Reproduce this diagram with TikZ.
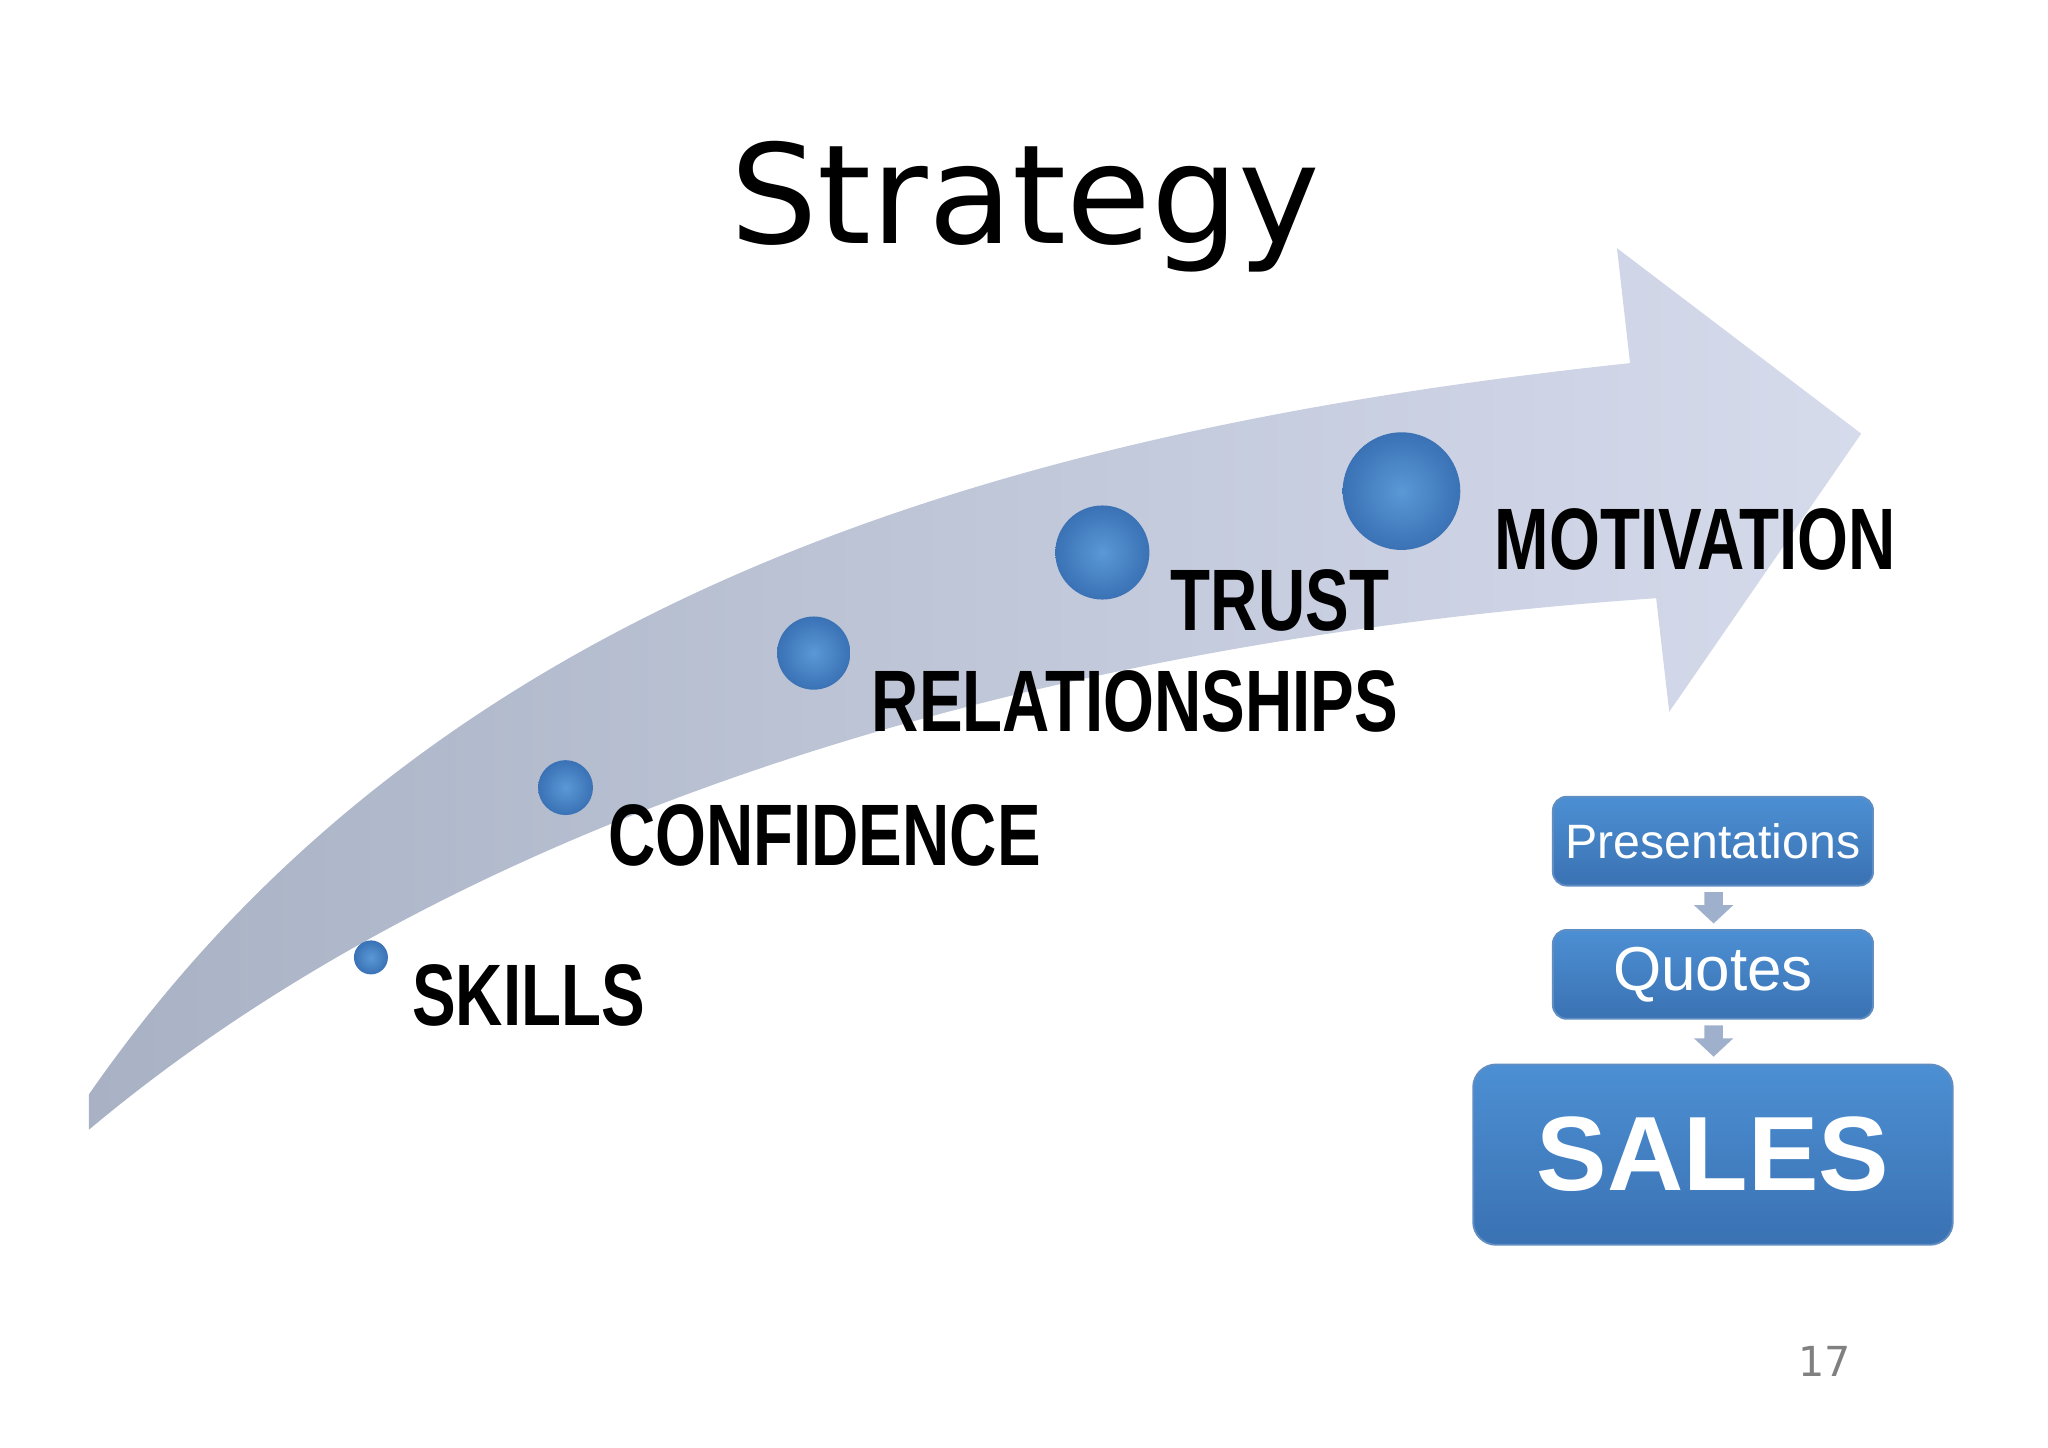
\documentclass[tikz,border=0pt]{standalone}
\usepackage{fontspec}
\setmainfont{Liberation Sans}
\newfontfamily\titlefont{DejaVu Sans}
\usetikzlibrary{shadings}
\definecolor{ballin}{HTML}{5A98D6}
\definecolor{ballout}{HTML}{3A72B5}
\definecolor{boxtop}{HTML}{4C8FD3}
\definecolor{boxbot}{HTML}{3A72B3}
\definecolor{arrA}{HTML}{A8B2C4}
\definecolor{arrB}{HTML}{D6DBEC}
\definecolor{smallarr}{HTML}{9FB0CC}
\tikzset{
  ball/.style={circle,inner sep=0pt,inner color=ballin,outer color=ballout,draw=none},
  lab/.style={font=\bfseries\fontsize{19}{20}\selectfont,xscale=0.75,anchor=west,inner sep=0pt},
  bluebox/.style={rounded corners=3pt,top color=boxtop,bottom color=boxbot,draw=boxbot!80,text=white,inner sep=0pt},
  darrow/.style={fill=smallarr,draw=none}
}
\begin{document}
\begin{tikzpicture}[x=0.01cm,y=-0.01cm]
\useasboundingbox (0,0) rectangle (1568,1108);
% big arrow
\shade[left color=arrA,right color=arrB]
 (68,838) .. controls (330,460) and (760,330) .. (1248,278)
 -- (1238,190) -- (1425,332) -- (1278,545) -- (1268,458)
 .. controls (800,490) and (360,620) .. (68,865) -- cycle;
\node[font=\titlefont\fontsize{30}{34}\selectfont] (title) at (785,158) {Strategy};
\node[ball,minimum size=0.26cm] (b1) at (284,733) {};
\node[ball,minimum size=0.42cm] (b2) at (433,603) {};
\node[ball,minimum size=0.56cm] (b3) at (623,500) {};
\node[ball,minimum size=0.72cm] (b4) at (844,423) {};
\node[ball,minimum size=0.90cm] (b5) at (1073,376) {};
\node[lab] (l1) at (315,762) {SKILLS};
\node[lab] (l2) at (465,640) {CONFIDENCE};
\node[lab] (l3) at (667,537) {RELATIONSHIPS};
\node[lab] (l4) at (896,460) {TRUST};
\node[lab] (l5) at (1144,413) {MOTIVATION};
\node[bluebox,minimum width=2.45cm,minimum height=0.68cm,font=\fontsize{10.5}{12}\selectfont] (p) at (1311.5,644) {Presentations};
\node[bluebox,minimum width=2.45cm,minimum height=0.68cm,font=\fontsize{13.5}{15}\selectfont] (q) at (1311.5,746) {Quotes};
\node[bluebox,rounded corners=5pt,minimum width=3.67cm,minimum height=1.38cm,font=\bfseries\fontsize{23}{26}\selectfont] (s) at (1311.5,884) {SALES};
\fill[darrow] (1305,683) -- (1319,683) -- (1319,693) -- (1327,693) -- (1312,707) -- (1297,693) -- (1305,693) -- cycle;
\fill[darrow] (1305,785) -- (1319,785) -- (1319,795) -- (1327,795) -- (1312,809) -- (1297,795) -- (1305,795) -- cycle;
\node[text=gray,font=\titlefont\fontsize{9}{10}\selectfont] (pg) at (1397,1042) {17};
\end{tikzpicture}
\end{document}
